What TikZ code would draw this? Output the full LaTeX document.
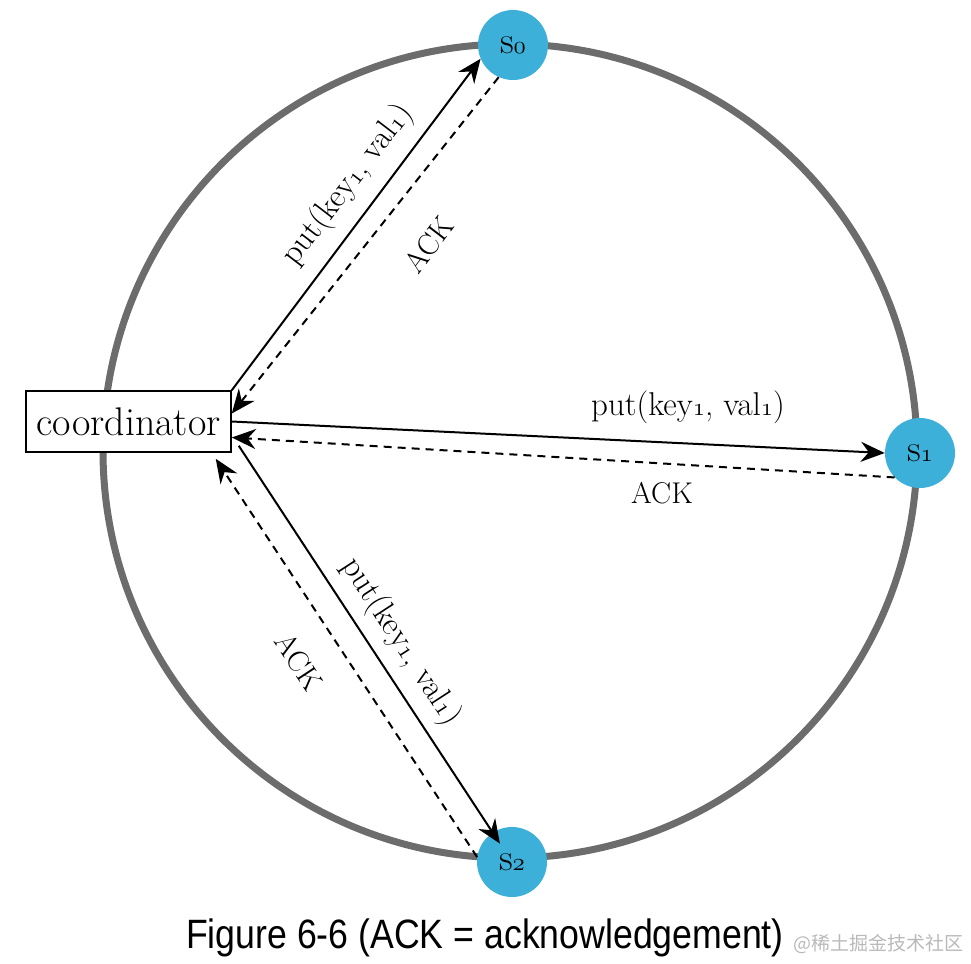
\documentclass[tikz,border=0pt]{standalone}
\usepackage{fontspec}
\usepackage{graphicx}
\usetikzlibrary{arrows.meta}
\newfontfamily\cjkfont{Noto Sans CJK SC}
\newfontfamily\capfont{Liberation Sans}
\newcommand\osf[1]{{\usefont{OML}{lmm}{m}{it}#1}}
\definecolor{nodeblue}{RGB}{60,176,216}
\definecolor{ringgray}{RGB}{108,108,108}
\begin{document}
\begin{tikzpicture}[x=1pt,y=-1pt,
  server/.style={circle, fill=nodeblue, minimum size=70pt, inner sep=0pt, font=\fontsize{38}{40}\selectfont},
  coordbox/.style={draw, line width=1.5pt, minimum width=205pt, minimum height=61pt, inner sep=0pt, font=\fontsize{40}{44}\selectfont, fill=white},
  req/.style={line width=2pt, -{Stealth[length=24pt,width=20pt,inset=8pt]}},
  ack/.style={req, dash pattern=on 8pt off 6pt},
  lbl/.style={font=\fontsize{33}{35}\selectfont, inner sep=0pt},
  acklbl/.style={font=\fontsize{30}{32}\selectfont, inner sep=0pt},
]
\useasboundingbox (0,0) rectangle (971,963);
\node[draw=ringgray, line width=7pt, circle, minimum size=814pt, inner sep=0pt] (ring) at (510,451) {};
\node[coordbox] (coord) at (128.5,421.5) {coordinator};
\node[server] (s0) at (513,45) {s\osf{0}};
\node[server] (s1) at (920,453) {s\osf{1}};
\node[server] (s2) at (512,862) {s\osf{2}};

\draw[req] (coord.north east) -- (s0.203);
\draw[ack] (s0.246) -- ([yshift=8pt]coord.east);
\draw[req] (coord.east) -- (s1.west);
\draw[ack] (s1.224) -- ([yshift=-16pt]coord.east);
\draw[req, shorten >=22pt] ([xshift=7pt,yshift=7pt]coord.south east) -- (s2.center);
\draw[ack] (s2.172) -- ([xshift=-16pt,yshift=-6pt]coord.south east);

\node[lbl, rotate=52.5] (l0p) at (348,185) {put(key\osf{1}, val\osf{1})};
\node[acklbl, rotate=52.5] (l0a) at (429,245) {ACK};
\node[lbl] (l1p) at (688,407) {put(key\osf{1}, val\osf{1})};
\node[acklbl] (l1a) at (662,493) {ACK};
\node[lbl, rotate=-57] (l2p) at (401,642) {put(key\osf{1}, val\osf{1})};
\node[acklbl, rotate=-56.6] (l2a) at (299,662) {ACK};

\node[font=\capfont\fontsize{41}{44}\selectfont, inner sep=0pt] (cap) at (485,938) {\scalebox{0.87}[1]{Figure 6-6 (ACK = acknowledgement)}};
\node[font=\cjkfont\fontsize{19}{20}\selectfont, text=gray!55, anchor=west, inner sep=0pt] (wm) at (793,944) {@稀土掘金技术社区};
\end{tikzpicture}
\end{document}
